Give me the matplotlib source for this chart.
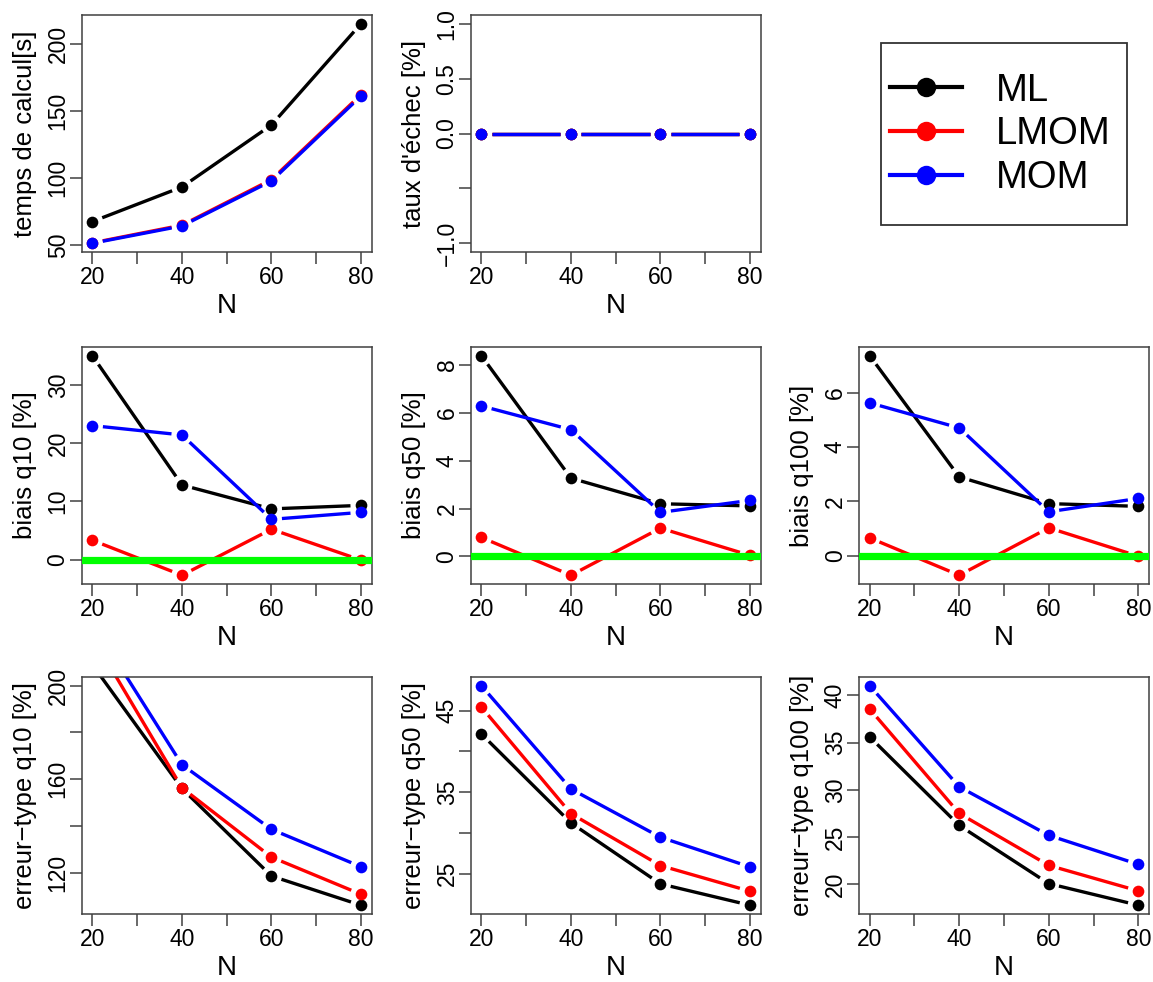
import numpy as np
import matplotlib
matplotlib.use('Agg')
import matplotlib.pyplot as plt
from matplotlib.lines import Line2D
from matplotlib.patches import Rectangle

plt.rcParams['font.family'] = ['Liberation Sans', 'DejaVu Sans']

# ---------------- data ----------------
N = [20, 40, 60, 80]
methods = ['ML', 'LMOM', 'MOM']
colors = ['#000000', '#FF0000', '#0000FF']

temps_ML = [67.7, 93.5, 139.8, 215.4]
temps_LMOM = [51.8, 65.0, 99.0, 162.5]
temps_MOM = [51.5, 64.4, 98.0, 161.4]

echec_ML = [0.0, 0.0, 0.0, 0.0]
echec_LMOM = [0.0, 0.0, 0.0, 0.0]
echec_MOM = [0.0, 0.0, 0.0, 0.0]

bq10_ML = [35.0, 12.8, 8.7, 9.3]
bq10_LMOM = [3.3, -2.7, 5.2, -0.1]
bq10_MOM = [23.0, 21.4, 6.9, 8.1]

bq50_ML = [8.39, 3.27, 2.20, 2.11]
bq50_LMOM = [0.79, -0.79, 1.18, 0.04]
bq50_MOM = [6.29, 5.30, 1.84, 2.34]

bq100_ML = [7.35, 2.90, 1.92, 1.82]
bq100_LMOM = [0.66, -0.71, 1.03, -0.01]
bq100_MOM = [5.62, 4.70, 1.62, 2.11]

eq10_ML = [209.0, 156.0, 118.5, 106.0]
eq10_LMOM = [221.0, 156.3, 126.6, 110.7]
eq10_MOM = [227.0, 166.2, 138.5, 122.5]

eq50_ML = [42.14, 31.22, 23.73, 21.11]
eq50_LMOM = [45.45, 32.36, 25.98, 22.83]
eq50_MOM = [48.07, 35.39, 29.46, 25.82]

eq100_ML = [35.6, 26.23, 20.07, 17.78]
eq100_LMOM = [38.56, 27.5, 22.0, 19.30]
eq100_MOM = [41.02, 30.32, 25.18, 22.11]

x_ticks = [20, 30, 40, 50, 60, 70, 80]
x_ticklabels = ['20', '', '40', '', '60', '', '80']

panels = [
    dict(row=0, col=0, data=(temps_ML, temps_LMOM, temps_MOM), ylabel='temps de calcul[s]',
         yticks=[50, 100, 150, 200], ylabels=['50', '100', '150', '200'], zero=False, ylim=None),
    dict(row=0, col=1, data=(echec_ML, echec_LMOM, echec_MOM), ylabel="taux d'échec [%]",
         yticks=[-1.0, -0.5, 0.0, 0.5, 1.0], ylabels=['\u22121.0', '', '0.0', '0.5', '1.0'], zero=False,
         ylim=(-1.0, 1.0)),
    dict(row=1, col=0, data=(bq10_ML, bq10_LMOM, bq10_MOM), ylabel='biais q10 [%]',
         yticks=[0, 10, 20, 30], ylabels=['0', '10', '20', '30'], zero=True, ylim=None),
    dict(row=1, col=1, data=(bq50_ML, bq50_LMOM, bq50_MOM), ylabel='biais q50 [%]',
         yticks=[0, 2, 4, 6, 8], ylabels=['0', '2', '4', '6', '8'], zero=True, ylim=None),
    dict(row=1, col=2, data=(bq100_ML, bq100_LMOM, bq100_MOM), ylabel='biais q100 [%]',
         yticks=[0, 2, 4, 6], ylabels=['0', '2', '4', '6'], zero=True, ylim=None),
    dict(row=2, col=0, data=(eq10_ML, eq10_LMOM, eq10_MOM), ylabel='erreur\u2212type q10 [%]',
         yticks=[120, 140, 160, 180, 200], ylabels=['120', '', '160', '', '200'], zero=False,
         ylim=(106.0, 200.0)),
    dict(row=2, col=1, data=(eq50_ML, eq50_LMOM, eq50_MOM), ylabel='erreur\u2212type q50 [%]',
         yticks=[25, 30, 35, 40, 45], ylabels=['25', '', '35', '', '45'], zero=False, ylim=None),
    dict(row=2, col=2, data=(eq100_ML, eq100_LMOM, eq100_MOM), ylabel='erreur\u2212type q100 [%]',
         yticks=[20, 25, 30, 35, 40], ylabels=['20', '25', '30', '35', '40'], zero=False, ylim=None),
]

# ---------------- layout ----------------
W, H = 1153, 982
fig = plt.figure(figsize=(W / 100, H / 100), dpi=100)
col_x = [81.7, 470.7, 859.0]
row_top = [15.0, 347.0, 677.0]
AW, AH = 290.0, 237.0
GAP = 10.5  # px gap around points (R type="b")
SPINE = '#404040'


def r_range(lo, hi):
    r = hi - lo
    return lo - 0.04 * r, hi + 0.04 * r


def draw_series(ax, x, y, color, k):
    x = np.asarray(x, float)
    y = np.asarray(y, float)
    pts = ax.transData.transform(np.column_stack([x, y]))
    inv = ax.transData.inverted()
    for i in range(len(x) - 1):
        p0, p1 = pts[i], pts[i + 1]
        d = p1 - p0
        L = np.hypot(d[0], d[1])
        if L <= 2 * GAP:
            continue
        u = d / L
        seg = inv.transform(np.vstack([p0 + u * GAP, p1 - u * GAP]))
        ax.plot(seg[:, 0], seg[:, 1], color=color, lw=2.4, solid_capstyle='butt', zorder=2 + 0.1 * k)
    ax.plot(x, y, 'o', color=color, ms=8.4, mec='none', zorder=2.05 + 0.1 * k)


for p in panels:
    x0 = col_x[p['col']]
    top = row_top[p['row']]
    ax = fig.add_axes([x0 / W, 1 - (top + AH) / H, AW / W, AH / H])
    ax.set_xlim(*r_range(20, 80))
    if p['ylim'] is not None:
        lo, hi = p['ylim']
    else:
        allv = np.concatenate([np.asarray(s, float) for s in p['data']])
        lo, hi = allv.min(), allv.max()
    ax.set_ylim(*r_range(lo, hi))
    for sp in ax.spines.values():
        sp.set_color(SPINE)
        sp.set_linewidth(1.1)
    ax.set_xticks(x_ticks)
    ax.set_xticklabels(x_ticklabels)
    ax.set_yticks(p['yticks'])
    ax.set_yticklabels(p['ylabels'])
    ax.tick_params(axis='both', direction='out', length=8.4, width=1.1, color=SPINE,
                   labelsize=16.5, labelcolor='black')
    ax.tick_params(axis='x', pad=1.5)
    ax.tick_params(axis='y', pad=0.3)
    for lab in ax.get_yticklabels():
        lab.set_rotation(90)
        lab.set_va('center')
        lab.set_ha('right')
    ax.set_xlabel('N', fontsize=20)
    ax.xaxis.set_label_coords(0.5, -54.0 / AH)
    ax.xaxis.label.set_va('center')
    ax.set_ylabel(p['ylabel'], fontsize=18.5)
    ax.yaxis.set_label_coords(-57.0 / AW, 0.5)
    ax.yaxis.label.set_va('center')
    for k, (s, c) in enumerate(zip(p['data'], colors)):
        draw_series(ax, N, s, c, k)
    if p['zero']:
        ax.axhline(0, color='#00FF00', lw=5.2, zorder=5)

# ---------------- legend ----------------
box = Rectangle((881 / W, 1 - 225 / H), 245.7 / W, 182.3 / H, transform=fig.transFigure,
                fill=False, edgecolor='#333333', lw=1.3)
fig.patches.append(box)
handles = [Line2D([], [], color=c, lw=3, marker='o', ms=14, mec='none') for c in colors]
fig.legend(handles, methods, loc='center left', bbox_to_anchor=(890 / W, 1 - 134.3 / H),
           frameon=False, borderpad=0, borderaxespad=0, fontsize=27.5, handlelength=1.88,
           handletextpad=0.9, labelspacing=0.2, numpoints=1)

fig.savefig('out.png', dpi=100)
